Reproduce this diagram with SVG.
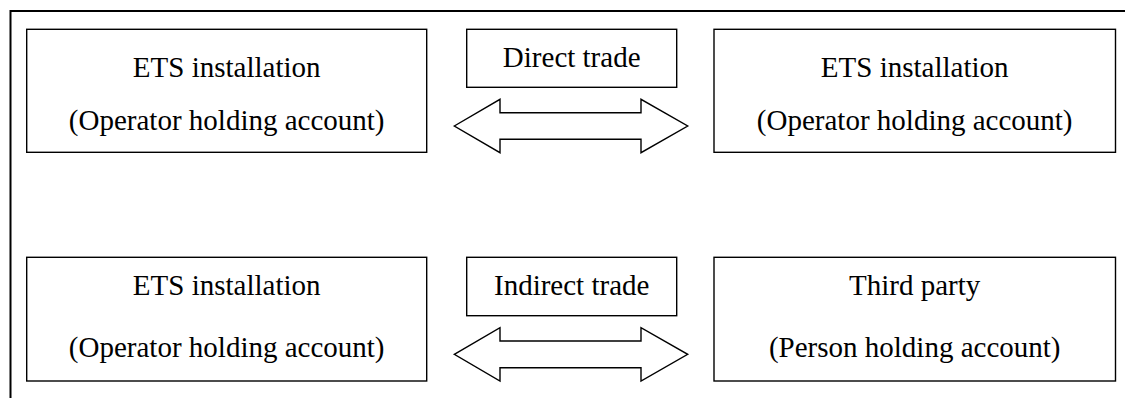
<svg xmlns="http://www.w3.org/2000/svg" width="1125" height="398" viewBox="0 0 1125 398">
<style>
.box{fill:#fff;stroke:#000;stroke-width:1.4}
.frame{fill:none;stroke:#000;stroke-width:2}
.arrow{fill:#fff;stroke:#000;stroke-width:1.4;stroke-linejoin:miter}
text{font-family:"Liberation Serif","Times New Roman",serif;font-size:29px;fill:#000;text-anchor:middle}
</style>
<rect width="1125" height="398" fill="#fff"/>
<path class="frame" d="M10.5,398 V11 H1125"/>
<g id="ets-top-left">
<rect class="box" x="26.7" y="29.3" width="400" height="123"/>
<text x="226.7" y="76.7">ETS installation</text>
<text x="226.7" y="130">(Operator holding account)</text>
</g>
<g id="direct-trade">
<rect class="box" x="466.7" y="29.3" width="210" height="58"/>
<text x="571.7" y="66.7">Direct trade</text>
</g>
<g id="ets-top-right">
<rect class="box" x="714" y="29.3" width="401.5" height="123"/>
<text x="914.7" y="76.7">ETS installation</text>
<text x="914.7" y="130">(Operator holding account)</text>
</g>
<g id="ets-bottom-left">
<rect class="box" x="26.7" y="257.3" width="400" height="123.7"/>
<text x="226.7" y="295">ETS installation</text>
<text x="226.7" y="356.7">(Operator holding account)</text>
</g>
<g id="indirect-trade">
<rect class="box" x="466.7" y="257.3" width="210" height="58.4"/>
<text x="571.7" y="295">Indirect trade</text>
</g>
<g id="third-party">
<rect class="box" x="714" y="257.3" width="401.5" height="123.7"/>
<text x="914.7" y="295">Third party</text>
<text x="914.7" y="356.7">(Person holding account)</text>
</g>
<g id="connectors">
<path class="arrow" d="M454.3,126 L500,99.3 V112.7 H641 V99.3 L687.7,126 L641,152.7 V139.3 H500 V152.7 Z"/>
<path class="arrow" d="M454.3,354.3 L500,327.7 V341 H641 V327.7 L687.7,354.3 L641,381 V367.7 H500 V381 Z"/>
</g>
</svg>
